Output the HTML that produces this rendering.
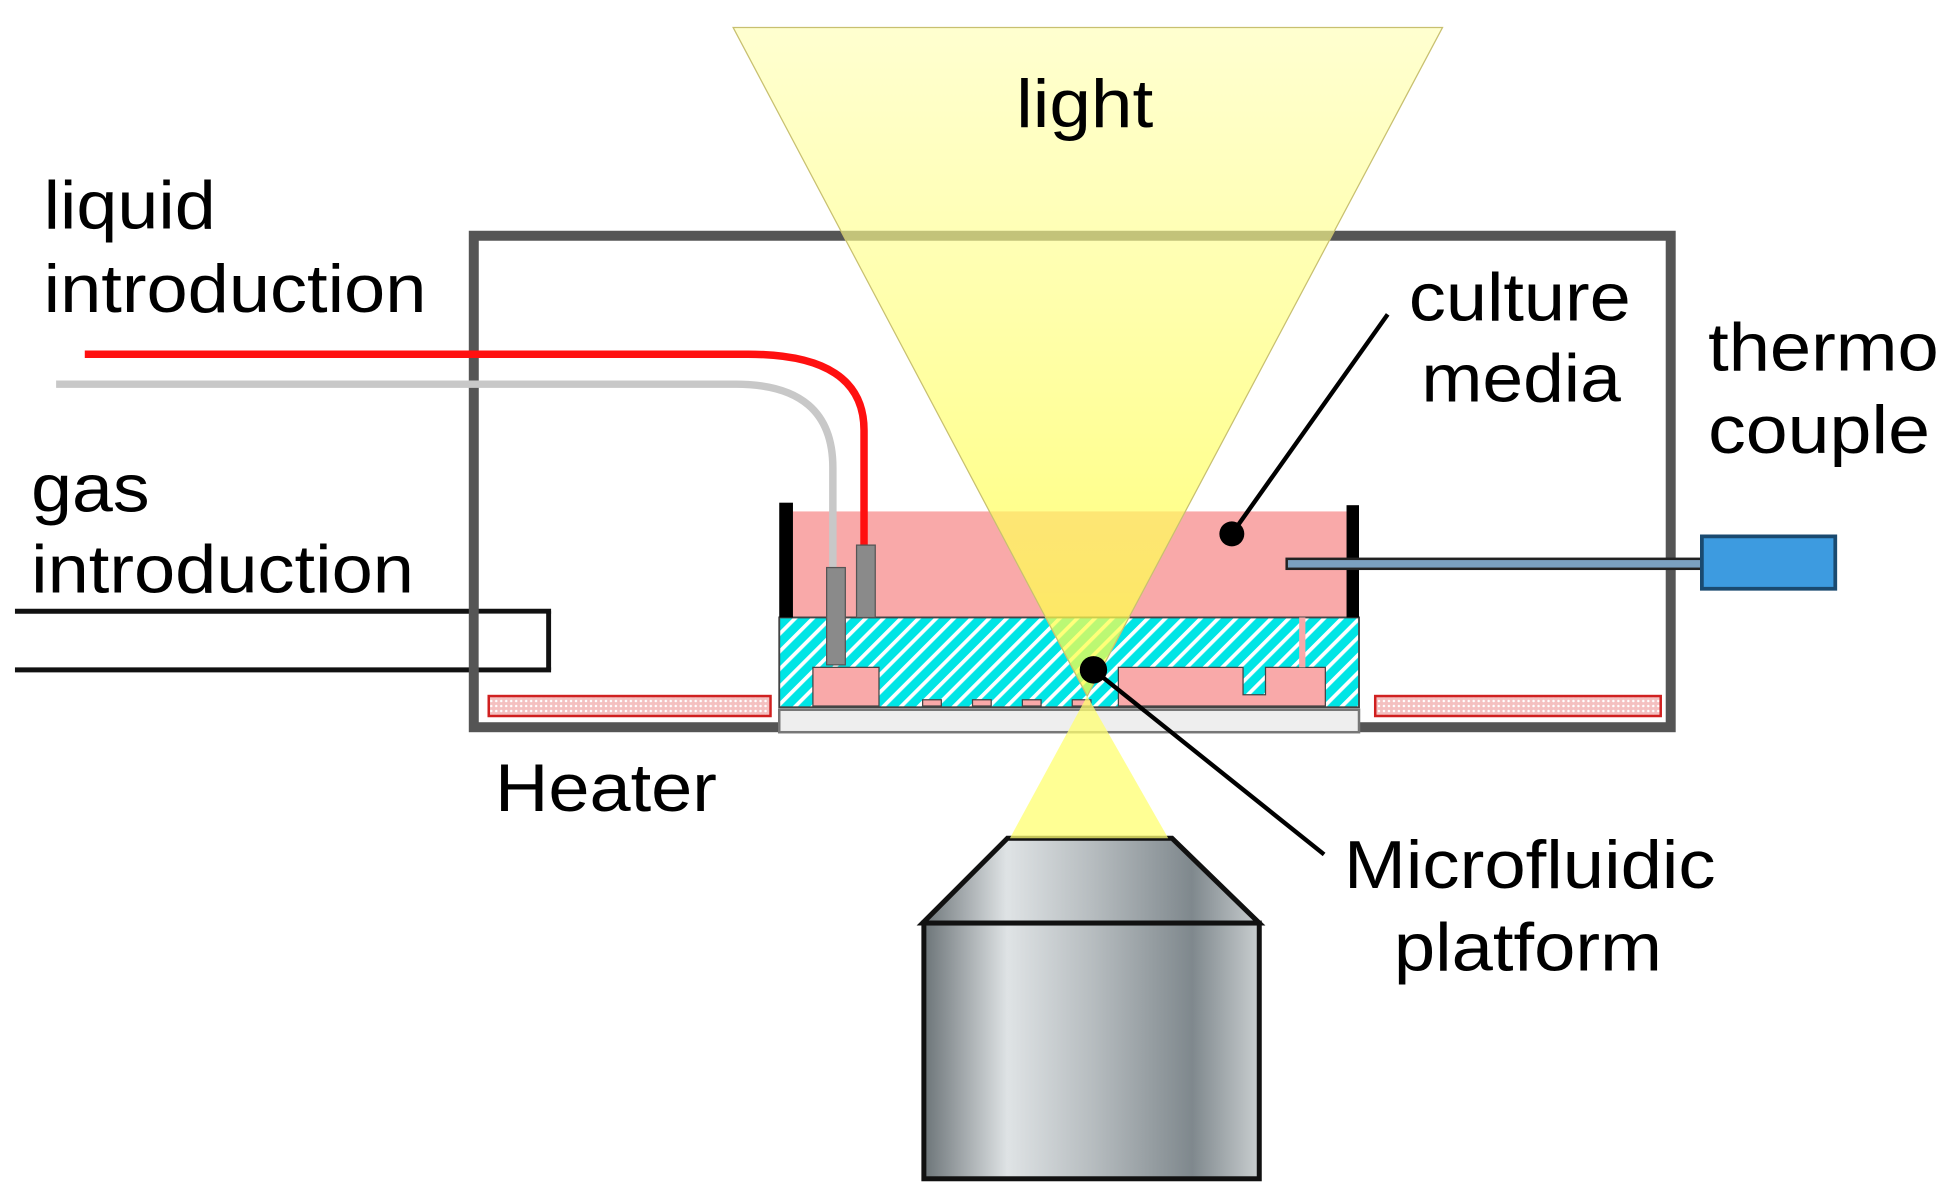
<!DOCTYPE html>
<html><head><meta charset="utf-8"><style>html,body{margin:0;padding:0;background:#fff}svg{display:block}</style></head>
<body>
<svg width="1945" height="1190" viewBox="0 0 1560 954" preserveAspectRatio="none" xmlns="http://www.w3.org/2000/svg">
<defs>
<pattern id="hatch" width="10" height="10" patternUnits="userSpaceOnUse" patternTransform="rotate(45)">
<rect width="10" height="10" fill="#00e5e5"/><rect width="3" height="10" fill="#ffffff"/></pattern>
<pattern id="dots" width="4" height="4" patternUnits="userSpaceOnUse"><rect width="4" height="4" fill="#f4c0c0"/><circle cx="2" cy="2" r="1" fill="#fff"/></pattern>
<linearGradient id="cone" x1="0" y1="0" x2="0" y2="1"><stop offset="0" stop-color="#ffffb0" stop-opacity="0.6"/><stop offset="1" stop-color="#ffff40" stop-opacity="0.75"/></linearGradient>
<linearGradient id="metal" x1="0" y1="0" x2="1" y2="0"><stop offset="0" stop-color="#6c7478"/><stop offset="0.25" stop-color="#dfe3e5"/><stop offset="0.5" stop-color="#b7bdc0"/><stop offset="0.8" stop-color="#7f888d"/><stop offset="1" stop-color="#c9ced0"/></linearGradient>
</defs>
<!-- gas tube -->
<line x1="12" y1="490" x2="442" y2="490" stroke="#111" stroke-width="4"/>
<line x1="12" y1="537" x2="442" y2="537" stroke="#111" stroke-width="4"/>
<line x1="440" y1="490" x2="440" y2="537" stroke="#111" stroke-width="4"/>
<!-- box -->
<rect x="380" y="189" width="960" height="394" fill="none" stroke="#555" stroke-width="8"/>
<rect x="384" y="492" width="54" height="43" fill="#fff"/>
<!-- heaters -->
<rect x="392" y="558" width="226" height="16" fill="url(#dots)" stroke="#d02020" stroke-width="2"/>
<rect x="1103" y="558" width="229" height="16" fill="url(#dots)" stroke="#d02020" stroke-width="2"/>
<!-- media -->
<rect x="636" y="410" width="444" height="86" fill="#f9a9a9"/>
<!-- chip -->
<rect x="625" y="495" width="465" height="72" fill="url(#hatch)" stroke="#444" stroke-width="1.5"/>
<rect x="652" y="535" width="53" height="31" fill="#f9a9a9" stroke="#444" stroke-width="1"/>
<path d="M897 566 V535 H997 V557 H1015 V535 H1063 V566 Z" fill="#f9a9a9" stroke="#444" stroke-width="1"/>
<rect x="1042" y="495" width="5" height="40" fill="#f9a9a9"/>
<rect x="740" y="561" width="15" height="5" fill="#f9a9a9" stroke="#444" stroke-width="1"/>
<rect x="780" y="561" width="15" height="5" fill="#f9a9a9" stroke="#444" stroke-width="1"/>
<rect x="820" y="561" width="15" height="5" fill="#f9a9a9" stroke="#444" stroke-width="1"/>
<rect x="860" y="561" width="15" height="5" fill="#f9a9a9" stroke="#444" stroke-width="1"/>
<rect x="625" y="569" width="465" height="18" fill="#eeeeee" stroke="#777" stroke-width="2"/>
<!-- walls -->
<rect x="625" y="403" width="11" height="92" fill="#000"/>
<rect x="1080" y="405" width="10" height="90" fill="#000"/>
<!-- tubes -->
<path d="M68 284 H600 Q693 284 693 345 V437" fill="none" stroke="#ff1010" stroke-width="6"/>
<path d="M45 308 H590 Q668 308 668 375 V455" fill="none" stroke="#c8c8c8" stroke-width="6"/>
<rect x="687" y="437" width="15" height="58" fill="#8a8a8a" stroke="#555" stroke-width="1"/>
<rect x="663" y="455" width="15" height="78" fill="#8a8a8a" stroke="#555" stroke-width="1"/>
<!-- thermocouple -->
<rect x="1032" y="448" width="333" height="8" fill="#7aa0c0" stroke="#222" stroke-width="2"/>
<rect x="1365" y="430" width="107" height="42" fill="#3d9be0" stroke="#1a4a70" stroke-width="3"/>
<!-- objective -->
<path d="M808 672 H940 L1010 740 H740 Z" fill="url(#metal)" stroke="#111" stroke-width="4"/>
<rect x="741" y="740" width="269" height="205" fill="url(#metal)" stroke="#111" stroke-width="4"/>
<!-- light -->
<path d="M588 22 L1157 22 L872 558 Z" fill="url(#cone)" stroke="#c8c070" stroke-width="1"/>
<path d="M872 558 L937 672 L810 672 Z" fill="#ffff70" fill-opacity="0.75"/>
<!-- leaders -->
<line x1="988" y1="428" x2="1113" y2="252" stroke="#000" stroke-width="3.5"/>
<circle cx="988" cy="428" r="10" fill="#000"/>
<line x1="877" y1="537" x2="1062" y2="685" stroke="#000" stroke-width="3.5"/>
<circle cx="877" cy="537" r="11" fill="#000"/>
<g font-family="Liberation Sans, sans-serif" font-size="54" fill="#000">
<text x="815" y="102" textLength="110" lengthAdjust="spacingAndGlyphs">light</text>
<text x="35" y="183" textLength="138" lengthAdjust="spacingAndGlyphs">liquid</text>
<text x="35" y="250" textLength="307" lengthAdjust="spacingAndGlyphs">introduction</text>
<text x="25" y="410" textLength="95" lengthAdjust="spacingAndGlyphs">gas</text>
<text x="25" y="475" textLength="307" lengthAdjust="spacingAndGlyphs">introduction</text>
<text x="397" y="650" textLength="178" lengthAdjust="spacingAndGlyphs">Heater</text>
<text x="1130" y="257" textLength="178" lengthAdjust="spacingAndGlyphs">culture</text>
<text x="1140" y="322" textLength="160" lengthAdjust="spacingAndGlyphs">media</text>
<text x="1370" y="297" textLength="185" lengthAdjust="spacingAndGlyphs">thermo</text>
<text x="1370" y="363" textLength="178" lengthAdjust="spacingAndGlyphs">couple</text>
<text x="1078" y="712" textLength="298" lengthAdjust="spacingAndGlyphs">Microfluidic</text>
<text x="1118" y="778" textLength="215" lengthAdjust="spacingAndGlyphs">platform</text>
</g>
</svg>
</body></html>
